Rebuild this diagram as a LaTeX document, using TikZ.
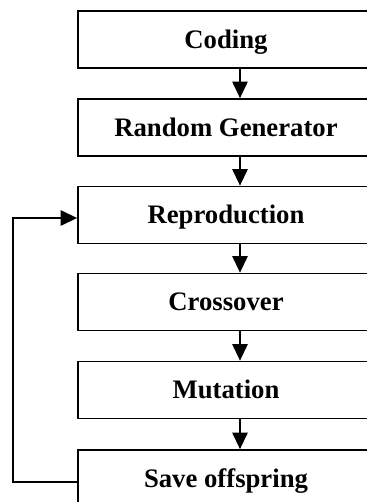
\documentclass[tikz,border=0pt]{standalone}
\usepackage{fontspec}
\setmainfont{Liberation Serif}
\usetikzlibrary{arrows.meta}

\begin{document}
\begin{tikzpicture}[box/.style={draw=black,line width=1.5pt,minimum width=8.88cm,minimum height=1.71cm,text height=15pt,text depth=0pt,font=\fontsize{22.8}{26}\selectfont\bfseries},
  arr/.style={line width=1.5pt,-{Triangle[length=14pt,width=13pt]}}]
\clip (0,0) rectangle (11.01,-15.06);
\node[box] (1) at (6.78,-1.185) {Coding};
  \node[box] (2) at (6.78,-3.825) {Random Generator};
  \node[box] (3) at (6.78,-6.45)  {Reproduction};
  \node[box] (4) at (6.78,-9.06)  {Crossover};
  \node[box] (5) at (6.78,-11.7)  {Mutation};
  \node[box] (6) at (6.78,-14.355) {Save offspring};
\draw[arr] ([xshift=0.42cm]1.south) to ([xshift=0.42cm]2.north);
\draw[arr] ([xshift=0.42cm]2.south) to ([xshift=0.42cm]3.north);
\draw[arr] ([xshift=0.42cm]3.south) to ([xshift=0.42cm]4.north);
\draw[arr] ([xshift=0.42cm]4.south) to ([xshift=0.42cm]5.north);
\draw[arr] ([xshift=0.42cm]5.south) to ([xshift=0.42cm]6.north);
\draw[arr] ([yshift=-0.1cm]6.west) -- ++(-1.92,0) |- ([yshift=-0.09cm]3.west);
\end{tikzpicture}
\end{document}
